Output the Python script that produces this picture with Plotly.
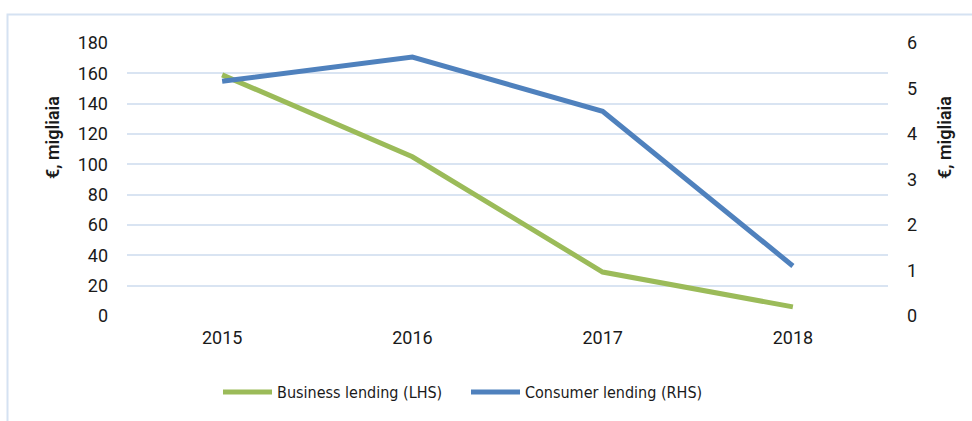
import plotly.graph_objects as go

years = ["2015", "2016", "2017", "2018"]
business_lending = [159, 105, 29, 6]
consumer_lending = [5.16, 5.69, 4.5, 1.1]
left_ticks = [0, 20, 40, 60, 80, 100, 120, 140, 160, 180]
right_ticks = [0, 1, 2, 3, 4, 5, 6]

GREEN = "#9BBB59"
BLUE = "#4F81BD"
GRID = "#D9E4F2"
TXT = "#1a1a1a"

fig = go.Figure()
fig.add_trace(go.Scatter(x=years, y=business_lending, mode="lines",
                         name="Business lending (LHS)",
                         line=dict(color=GREEN, width=5)))
fig.add_trace(go.Scatter(x=years, y=consumer_lending, mode="lines",
                         name="Consumer lending (RHS)", yaxis="y2",
                         line=dict(color=BLUE, width=5)))

W, H = 972, 421
L, R, T, B = 127, 888, 43, 316

def px_x(p):
    return (p - L) / (R - L)

def px_y(p):
    return (B - p) / (B - T)

TICKFONT = dict(family="Roboto, Arial, sans-serif", size=18, color=TXT)

fig.update_layout(
    width=W, height=H,
    margin=dict(l=L, r=W - R, t=T, b=H - B, autoexpand=False),
    paper_bgcolor="white", plot_bgcolor="white",
    font=dict(family="Roboto, Arial, sans-serif", size=17, color=TXT),
    xaxis=dict(type="category", range=[-0.5, 3.5], showgrid=False,
               showline=False, zeroline=False, ticks="",
               ticklabelstandoff=9, tickfont=TICKFONT),
    yaxis=dict(range=[0, 180], tickvals=left_ticks, showgrid=True,
               gridcolor=GRID, gridwidth=2, zeroline=False, showline=False,
               ticks="", ticklabelstandoff=18, tickfont=TICKFONT),
    yaxis2=dict(range=[0, 6], tickvals=right_ticks, overlaying="y",
                side="right", showgrid=False, zeroline=False, showline=False,
                ticks="", ticklabelstandoff=18, tickfont=TICKFONT),
    showlegend=True,
    legend=dict(orientation="h", x=px_x(218), xanchor="left",
                y=px_y(392), yanchor="middle",
                font=dict(family="DejaVu Sans Condensed, Liberation Sans Narrow, sans-serif",
                          size=16, color=TXT),
                itemwidth=49, entrywidth=184, tracegroupgap=0,
                bgcolor="rgba(0,0,0,0)"),
    shapes=[dict(type="rect", xref="paper", yref="paper",
                 x0=px_x(7.5), x1=px_x(1000), y0=px_y(460), y1=px_y(14.5),
                 line=dict(color="#D5E2F2", width=2), fillcolor="rgba(0,0,0,0)",
                 layer="below")],
    annotations=[
        dict(text="€, migliaia", xref="paper", yref="paper",
             x=px_x(52), y=px_y(138), textangle=-90, showarrow=False,
             xanchor="center", yanchor="middle",
             font=dict(size=18, color=TXT, weight=600)),
        dict(text="€, migliaia", xref="paper", yref="paper",
             x=px_x(944), y=px_y(138), textangle=-90, showarrow=False,
             xanchor="center", yanchor="middle",
             font=dict(size=18, color=TXT, weight=600)),
    ],
)

fig.write_html("out.html", config={"displayModeBar": False},
               post_script="document.body.style.margin='0';")
